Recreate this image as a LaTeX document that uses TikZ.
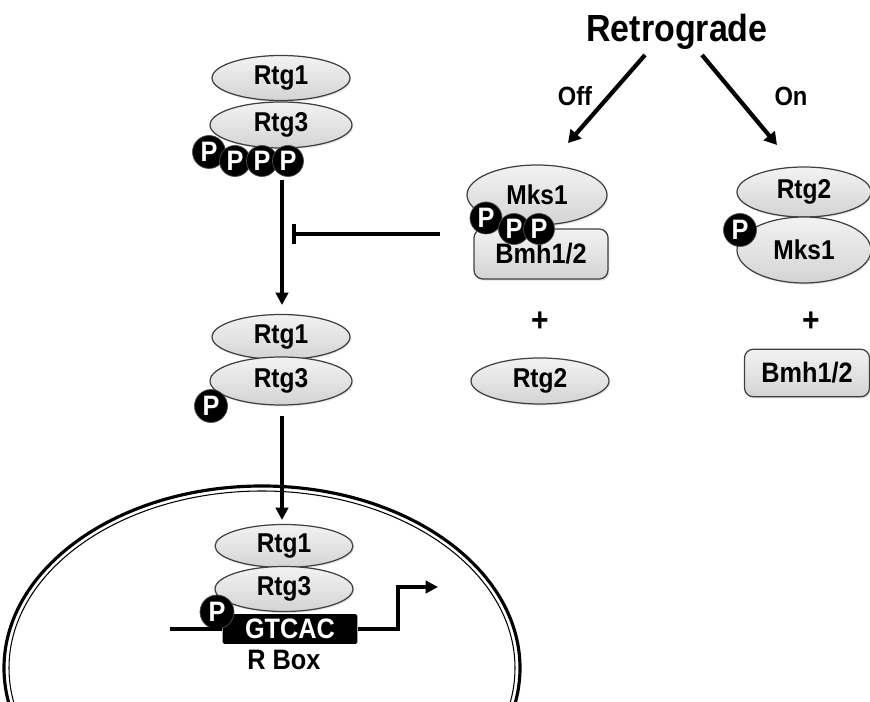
\documentclass[tikz,border=0pt]{standalone}
\usepackage{fontspec}
\setmainfont[FakeStretch=0.9]{Liberation Sans}
\usepackage{tikz}
\usetikzlibrary{arrows.meta, shapes.geometric, shadows}

\tikzset{
  prot/.style={ellipse, draw=black!75, line width=0.7pt, top color=gray!10, bottom color=gray!34,
    drop shadow={opacity=0.2, shadow xshift=0.6pt, shadow yshift=-0.9pt},
    minimum width=2.76cm, minimum height=0.9cm, inner sep=0pt, font=\bfseries\fontsize{15.5}{17}\selectfont},
  bmh/.style={rectangle, rounded corners=5pt, draw=black!75, line width=0.7pt, top color=gray!10, bottom color=gray!34,
    drop shadow={opacity=0.25, shadow xshift=0.8pt, shadow yshift=-1pt},
    minimum width=2.68cm, minimum height=1.0cm, inner sep=0pt, font=\bfseries\fontsize{16}{17}\selectfont},
  phos/.style={circle, fill=black, draw=black!70, text=white, minimum size=0.62cm, inner sep=0pt,
    font=\bfseries\fontsize{16}{17}\selectfont},
  lbl/.style={font=\bfseries\fontsize{15}{16}\selectfont},
  plus/.style={font=\bfseries\fontsize{19}{20}\selectfont},
  arr/.style={line width=1.8pt, -{Triangle[length=7pt, width=7pt]}},
  bigarr/.style={line width=2.4pt, -{Triangle[length=7pt, width=8pt]}},
  inhib/.style={line width=1.8pt, -{Bar[width=11pt, line width=2.2pt]}},
  dna/.style={line width=2pt},
}

\begin{document}
\begin{tikzpicture}[x=0.02cm, y=-0.02cm]
\useasboundingbox (0,0) rectangle (870,702);
\clip (0,0) rectangle (870,702);

% nucleus, double membrane
\draw[line width=1.8pt] (262,668) ellipse [x radius=258, y radius=182];
\draw[line width=0.6pt] (262,668) ellipse [x radius=253, y radius=177];

% signal and its two branches
\node[font=\bfseries\fontsize{21.5}{23}\selectfont] (retro) at (677,32) {Retrograde};
\coordinate (offS) at (645,55);
\coordinate (offE) at (568,143);
\coordinate (onS) at (702,55);
\coordinate (onE) at (777,145);
\draw[bigarr] (offS) -- (offE);
\draw[bigarr] (onS) -- (onE);
\node[lbl] (off) at (575,96) {Off};
\node[lbl] (on) at (791,96) {On};

% Off: Mks1 held by Bmh1/2, Rtg2 free
\node[prot, minimum width=2.8cm, minimum height=1.2cm] (mksA) at (537,195) {Mks1};
\node[bmh] (bmhA) at (541,254) {Bmh1/2};
\node[phos, minimum size=0.64cm] (pm1) at (486,218) {P};
\node[phos] (pm2) at (514,229) {P};
\node[phos] (pm3) at (539,229) {P};
\node[plus] (plusA) at (540,322) {+};
\node[prot, minimum height=0.92cm] (rtg2A) at (540,381) {Rtg2};

% On: Rtg2 binds Mks1, Bmh1/2 free
\node[prot, minimum width=2.68cm, minimum height=1.0cm] (rtg2B) at (804,192) {Rtg2};
\node[prot, minimum width=2.68cm, minimum height=1.32cm] (mksB) at (804,250) {Mks1};
\node[phos, minimum size=0.66cm] (pm4) at (740,230) {P};
\node[plus] (plusB) at (811,322) {+};
\node[bmh, minimum width=2.5cm, minimum height=0.95cm] (bmhB) at (807,373) {Bmh1/2};

% Rtg1/Rtg3 in the cytoplasm, hyperphosphorylated
\node[prot] (rtg1a) at (281,78) {Rtg1};
\node[prot, minimum width=2.84cm, minimum height=0.92cm] (rtg3a) at (281,125) {Rtg3};
\node[phos, minimum size=0.66cm] (pa1) at (209,152) {P};
\node[phos] (pa2) at (235,161) {P};
\node[phos] (pa3) at (262,161) {P};
\node[phos] (pa4) at (288,161) {P};

% Rtg1/Rtg3 partially dephosphorylated
\node[prot] (rtg1b) at (281,337) {Rtg1};
\node[prot, minimum width=2.84cm, minimum height=0.96cm] (rtg3b) at (281,381) {Rtg3};
\node[phos, minimum size=0.66cm] (pb1) at (211,406) {P};

\coordinate (s1) at (282,180);
\coordinate (e1) at (282,305);
\draw[arr] (s1) -- (e1);
\coordinate (s2) at (282,416);
\coordinate (e2) at (282,520);
\draw[arr] (s2) -- (e2);

\coordinate (inhS) at (440,234);
\coordinate (inhE) at (292,234);
\draw[inhib] (inhS) -- (inhE);

% in the nucleus, bound to the R box
\node[prot, minimum width=2.76cm, minimum height=0.86cm] (rtg1c) at (284,546) {Rtg1};
\node[prot, minimum width=2.76cm, minimum height=0.9cm] (rtg3c) at (284,589) {Rtg3};
\node[rectangle, fill=black, rounded corners=1pt, minimum width=2.7cm, minimum height=0.6cm, inner sep=0pt,
  text=white, font=\bfseries\fontsize{16}{17}\selectfont] (gtcac) at (290,629) {GTCAC};
\node[phos, minimum size=0.68cm] (pc1) at (217,612) {P};
\node[font=\bfseries\fontsize{16}{17}\selectfont] (rbox) at (284,660) {R Box};

\coordinate (dnaL) at (170,629);
\coordinate (tss) at (398,587);
\coordinate (tx) at (438,587);
\draw[dna] (dnaL) -- (gtcac.west);
\draw[dna, -{Triangle[length=7pt, width=7pt]}] (gtcac.east) -| (tss) -- (tx);
\end{tikzpicture}
\end{document}
